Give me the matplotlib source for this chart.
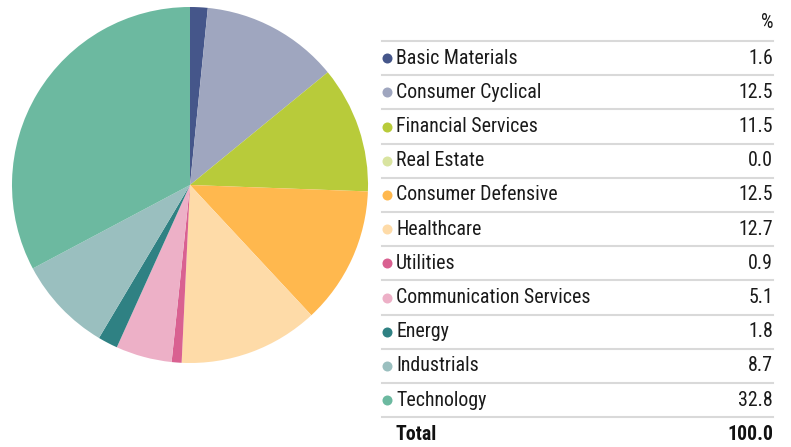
import matplotlib.pyplot as plt
from matplotlib import font_manager

# -----------------------------
# Data
# -----------------------------
sectors = [
    "Basic Materials",
    "Consumer Cyclical",
    "Financial Services",
    "Real Estate",
    "Consumer Defensive",
    "Healthcare",
    "Utilities",
    "Communication Services",
    "Energy",
    "Industrials",
    "Technology",
]
weights = [1.6, 12.5, 11.5, 0.0, 12.5, 12.7, 0.9, 5.1, 1.8, 8.7, 32.8]
total_label = "100.0"
colors = [
    "#45568a", "#9fa6bf", "#b8cb3a", "#d9e4a0", "#ffb84e", "#fedba8",
    "#d96191", "#edb0c7", "#2f8183", "#9abfbf", "#6cb9a0",
]

# -----------------------------
# Font (narrow face if available)
# -----------------------------
names = {f.name for f in font_manager.fontManager.ttflist}
FONT = [n for n in ["Roboto Condensed", "Archivo Narrow"] if n in names][:1] + ["DejaVu Sans"]
plt.rcParams["font.family"] = FONT

W, H = 791, 447
fig = plt.figure(figsize=(W / 100, H / 100), dpi=100)

# -----------------------------
# Pie
# -----------------------------
cx, cy, r = 190, 185, 178
pie_ax = fig.add_axes([(cx - r) / W, (H - cy - r) / H, 2 * r / W, 2 * r / H])
pie_ax.pie(weights, colors=colors, startangle=90, counterclock=False,
           wedgeprops=dict(linewidth=0))
pie_ax.set_xlim(-1, 1)
pie_ax.set_ylim(-1, 1)
pie_ax.set_aspect("equal")
pie_ax.axis("off")

# -----------------------------
# Table
# -----------------------------
ax = fig.add_axes([0, 0, 1, 1])
ax.set_xlim(0, W)
ax.set_ylim(H, 0)
ax.axis("off")

x0, x1 = 382, 773
row_h = 34.2
top = 41
fs = 14.3
txt_color = "#1a1a1a"
ax.text(x1, 22, "%", ha="right", va="center", fontsize=fs, color=txt_color)

for i, (name, val, c) in enumerate(zip(sectors, weights, colors)):
    y_line = top + i * row_h
    ax.plot([x0, x1], [y_line, y_line], color="#d9d9d9", lw=1.5)
    yc = y_line + row_h / 2
    ax.scatter([387], [yc], s=52, color=c, linewidths=0)
    ax.text(396, yc, name, ha="left", va="center", fontsize=fs, color=txt_color)
    ax.text(x1, yc, f"{val:.1f}", ha="right", va="center", fontsize=fs, color=txt_color)

y_line = top + len(sectors) * row_h
ax.plot([x0, x1], [y_line, y_line], color="#d9d9d9", lw=1.5)
yc = y_line + row_h / 2
ax.text(396, yc, "Total", ha="left", va="center", fontsize=fs, fontweight="bold", color="#111111")
ax.text(x1, yc, total_label, ha="right", va="center", fontsize=fs, fontweight="bold", color="#111111")

fig.savefig("out.png", dpi=100)
